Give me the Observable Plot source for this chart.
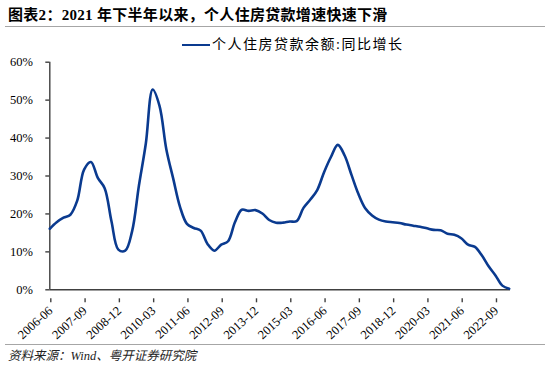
<!DOCTYPE html>
<html><head><meta charset="utf-8">
<script src="https://cdn.jsdelivr.net/npm/d3@7"></script>
<script src="https://cdn.jsdelivr.net/npm/@observablehq/plot@0.6"></script>
<style>
body{margin:0;background:#fff;}
#wrap{position:relative;width:550px;height:371px;overflow:hidden;font-family:"Liberation Serif","Noto Sans CJK SC",serif;color:#000;}
#chart{position:absolute;left:0;top:0;}
#title{position:absolute;left:8px;top:5px;font-size:15px;font-weight:bold;white-space:nowrap;line-height:20px;letter-spacing:0.3px;}
.sep{position:absolute;left:5px;width:540px;height:1px;background:#a6a6a6;}
#legend{position:absolute;left:182px;top:36px;font-size:14px;line-height:18px;white-space:nowrap;letter-spacing:1.5px;}
#legend .sw{display:inline-block;width:28px;height:2.5px;background:#0a3a8f;vertical-align:middle;margin-right:2px;position:relative;top:-1px;}
#footer{position:absolute;left:8px;top:347px;font-size:12.5px;font-style:italic;white-space:nowrap;line-height:18px;color:#222;}
</style></head><body>
<div id="wrap">
<div id="chart"></div>
<div id="title">图表2：2021 年下半年以来，个人住房贷款增速快速下滑</div>
<div class="sep" style="top:26px"></div>
<div id="legend"><span class="sw"></span><span id="legtext"></span></div>
<div class="sep" style="top:344px"></div>
<div id="footer">资料来源：Wind、粤开证券研究院</div>
</div>
<script>
const seriesName = "个人住房贷款余额:同比增长";
const quarters = [
"2006-06","2006-09","2006-12","2007-03","2007-06","2007-09","2007-12","2008-03","2008-06","2008-09",
"2008-12","2009-03","2009-06","2009-09","2009-12","2010-03","2010-06","2010-09","2010-12","2011-03",
"2011-06","2011-09","2011-12","2012-03","2012-06","2012-09","2012-12","2013-03","2013-06","2013-09",
"2013-12","2014-03","2014-06","2014-09","2014-12","2015-03","2015-06","2015-09","2015-12","2016-03",
"2016-06","2016-09","2016-12","2017-03","2017-06","2017-09","2017-12","2018-03","2018-06","2018-09",
"2018-12","2019-03","2019-06","2019-09","2019-12","2020-03","2020-06","2020-09","2020-12","2021-03",
"2021-06","2021-09","2021-12","2022-03","2022-06","2022-09","2022-12","2023-03"];
const growth = [
16.1,17.8,19.0,19.8,23.5,31.7,33.7,29.5,26.8,18.0,
10.6,10.3,15.4,27.5,38.5,52.8,48.5,37.0,29.3,21.8,
17.4,16.3,15.6,12.1,10.3,11.9,12.8,17.8,21.1,20.8,
21.0,20.1,18.4,17.7,17.7,18.0,18.1,21.6,23.8,26.3,
31.0,35.0,38.2,35.4,30.3,25.3,21.5,19.6,18.5,18.0,
17.8,17.6,17.2,16.9,16.6,16.2,15.8,15.7,14.8,14.5,
13.6,11.9,11.3,9.1,6.2,3.8,1.1,0.3];
const xTickLabels = ["2006-06","2007-09","2008-12","2010-03","2011-06","2012-09","2013-12","2015-03","2016-06","2017-09","2018-12","2020-03","2021-06","2022-09"];
const yTicks = [0,10,20,30,40,50,60];

document.getElementById("legtext").textContent = seriesName;
const data = quarters.map((q,i)=>({q, v: growth[i]}));
const axisColor = "#404040";
const lineColor = "#0a3a8f";

const chart = Plot.plot({
  width: 550, height: 371,
  marginLeft: 49.3, marginRight: 40, marginTop: 61.7, marginBottom: 81.7,
  style: {fontFamily: '"Liberation Serif","Noto Sans CJK SC",serif', fontSize: "12.5px", color: "#000", background: "transparent"},
  x: {type: "point", domain: quarters, range: [49.3, 508.7], padding: 0},
  y: {domain: [0, 60], range: [289.3, 61.7]},
  marks: [
    Plot.ruleY([0], {stroke: axisColor, strokeWidth: 1.4}),
    Plot.ruleX([quarters[0]], {y1: 0, y2: 60, stroke: axisColor, strokeWidth: 1.4}),
    Plot.axisY({ticks: yTicks, tickFormat: d => d + "%", tickSize: 4, tickPadding: 13, stroke: axisColor, strokeWidth: 1.4, label: null, fill: "#000"}),
    Plot.axisX({ticks: xTickLabels, tickSize: 4, tickPadding: 6, tickRotate: -42, stroke: axisColor, strokeWidth: 1.4, label: null, fill: "#000", fontSize: 12.5, dx: 1, dy: 9}),
    Plot.line(data, {x: "q", y: "v", stroke: lineColor, strokeWidth: 2.6, curve: "catmull-rom"})
  ]
});
document.getElementById("chart").appendChild(chart);
</script>
</body></html>
